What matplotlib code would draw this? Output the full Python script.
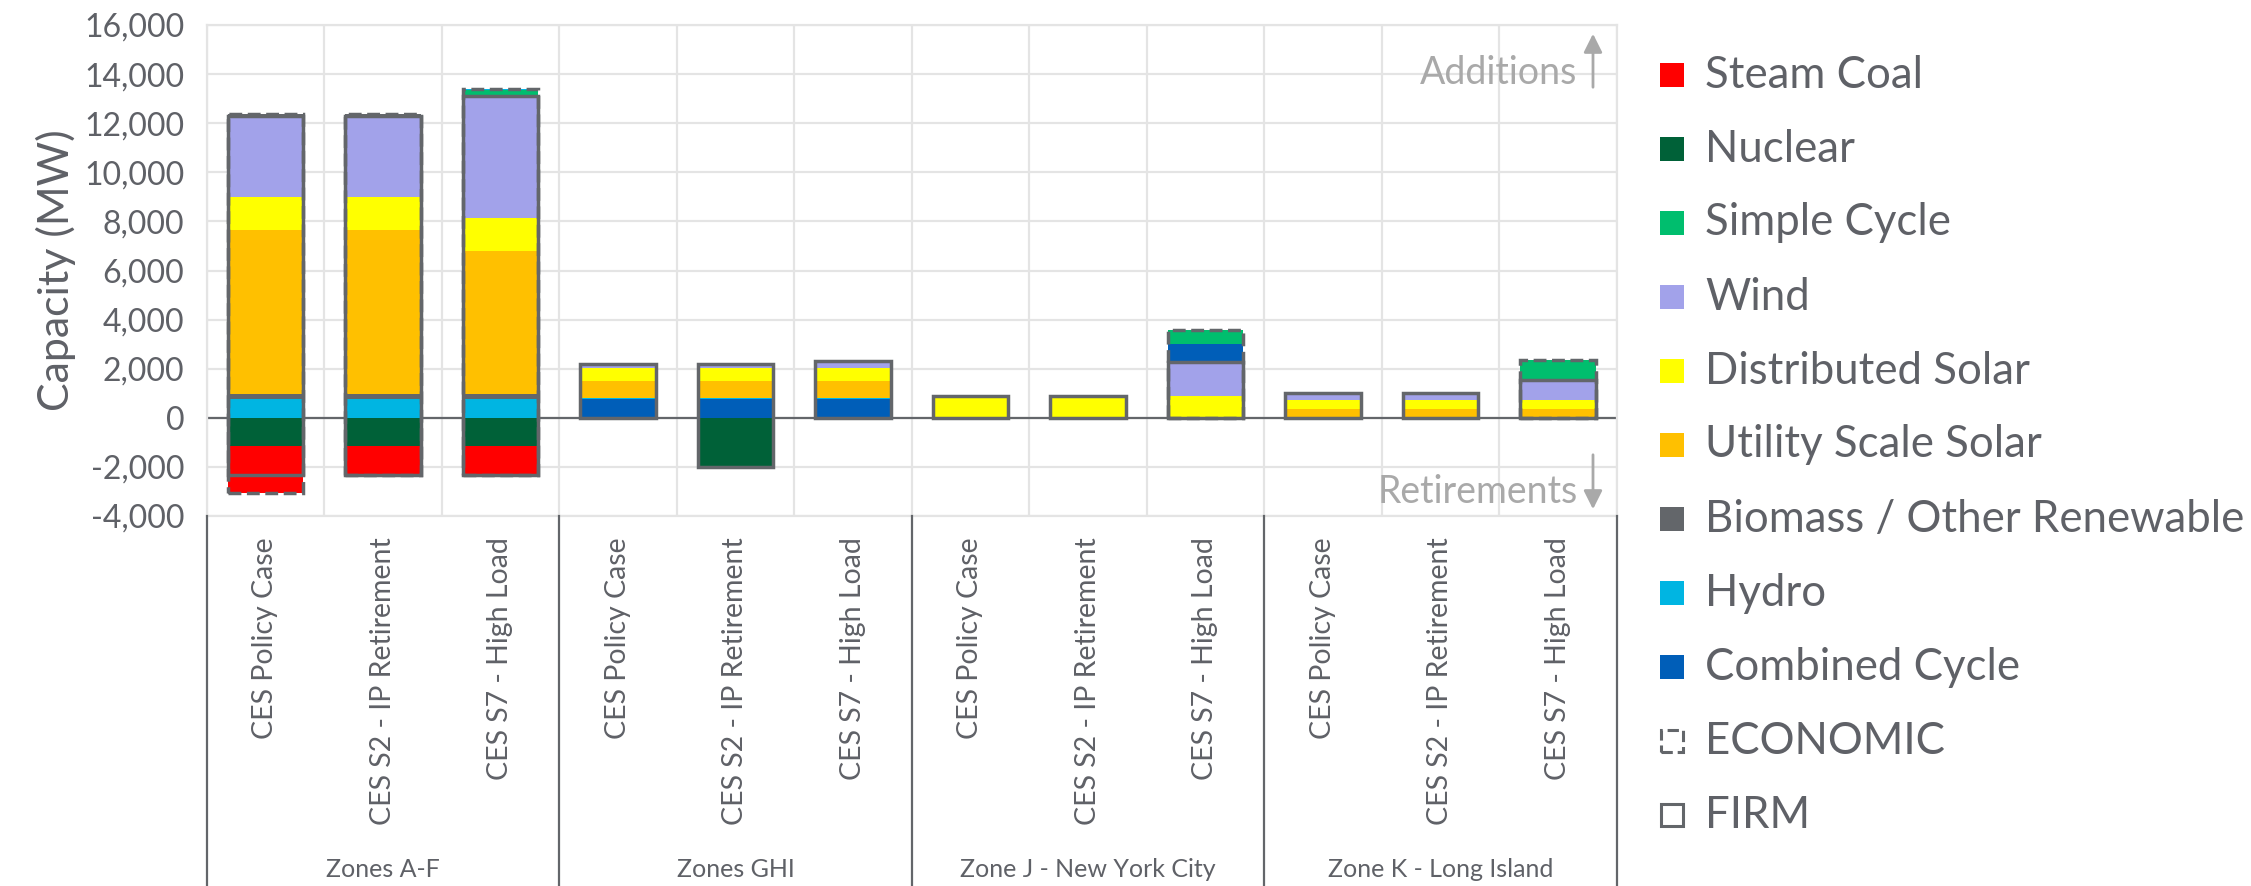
import numpy as np
import matplotlib.pyplot as plt
from matplotlib.patches import Rectangle
from matplotlib.ticker import FuncFormatter, MultipleLocator

plt.rcParams['font.family'] = ['Lato', 'DejaVu Sans']

# Cases and zones
cases = ["CES Policy Case", "CES S2 - IP Retirement", "CES S7 - High Load"] * 4
zones = ["Zones A-F", "Zones GHI", "Zone J - New York City", "Zone K - Long Island"]

# FIRM capacity changes (MW), one value per case
firm_combined_cycle = [0, 0, 0, 750, 750, 750, 0, 0, 0, 0, 0, 0]
firm_hydro = [760, 760, 760, 60, 60, 60, 0, 0, 0, 0, 0, 0]
firm_biomass = [200, 200, 200, 0, 0, 0, 0, 0, 0, 0, 0, 0]
firm_utility_solar = [6710, 6710, 5850, 680, 680, 680, 0, 0, 0, 340, 340, 340]
firm_distributed_solar = [1320, 1320, 1320, 550, 550, 550, 890, 890, 890, 370, 370, 370]
firm_wind = [3300, 3300, 4970, 170, 170, 270, 0, 0, 1390, 280, 280, 820]
firm_nuclear = [-1150, -1150, -1150, 0, -2000, 0, 0, 0, 0, 0, 0, 0]
firm_steam_coal = [-1200, -1200, -1200, 0, 0, 0, 0, 0, 0, 0, 0, 0]

# ECONOMIC capacity changes (MW) on top of the firm builds
econ_combined_cycle = [0, 0, 0, 0, 0, 0, 0, 0, 710, 0, 0, 0]
econ_simple_cycle = [0, 0, 250, 0, 0, 0, 0, 0, 590, 0, 0, 820]
econ_biomass = [80, 80, 0, 0, 0, 0, 0, 0, 0, 0, 0, 0]
econ_hydro = [0, 0, 40, 0, 0, 0, 0, 0, 0, 0, 0, 0]
econ_steam_coal = [-700, 0, 0, 0, 0, 0, 0, 0, 0, 0, 0, 0]

colors = {
    "Steam Coal": "#FF0000",
    "Nuclear": "#006138",
    "Simple Cycle": "#00BE6E",
    "Wind": "#A2A2EA",
    "Distributed Solar": "#FFFF00",
    "Utility Scale Solar": "#FFC000",
    "Biomass / Other Renewable": "#63666A",
    "Hydro": "#00B5E2",
    "Combined Cycle": "#005EB8",
}
outline = "#63666A"
text_gray = "#5F6167"
note_gray = "#A9A9A9"
grid_gray = "#E4E4E4"

stack = [
    ("Combined Cycle", firm_combined_cycle),
    ("Hydro", firm_hydro),
    ("Biomass / Other Renewable", firm_biomass),
    ("Utility Scale Solar", firm_utility_solar),
    ("Distributed Solar", firm_distributed_solar),
    ("Wind", firm_wind),
    ("Nuclear", firm_nuclear),
    ("Steam Coal", firm_steam_coal),
    ("Combined Cycle", econ_combined_cycle),
    ("Simple Cycle", econ_simple_cycle),
    ("Biomass / Other Renewable", econ_biomass),
    ("Hydro", econ_hydro),
    ("Steam Coal", econ_steam_coal),
]
n_firm = 8

fig = plt.figure(figsize=(22.51, 8.86), dpi=100)
ax = fig.add_axes([206.7 / 2251, 1 - 516 / 886, 1410 / 2251, 491 / 886])

x = np.arange(len(cases))
width = 0.64
pos = np.zeros(len(cases))
neg = np.zeros(len(cases))
firm_lo = firm_hi = None
for i, (tech, vals) in enumerate(stack):
    vals = np.array(vals, dtype=float)
    base = np.where(vals >= 0, pos, neg)
    ax.bar(x, vals, width, bottom=base, color=colors[tech], linewidth=0, zorder=2)
    pos += np.clip(vals, 0, None)
    neg += np.clip(vals, None, 0)
    if i == n_firm - 1:
        firm_lo, firm_hi = neg.copy(), pos.copy()

# ECONOMIC outline (dashed) where economic builds exist, FIRM outline (solid)
has_econ = np.zeros(len(cases), dtype=bool)
for _, vals in stack[n_firm:]:
    has_econ |= np.array(vals) != 0
ax.bar(x, firm_hi - firm_lo, width, bottom=firm_lo, fill=False,
       edgecolor=outline, linewidth=2.5, zorder=3)
ax.bar(x[has_econ], (pos - neg)[has_econ], width, bottom=neg[has_econ], fill=False,
       edgecolor=outline, linewidth=2.5, linestyle="--", zorder=4)

ax.set_xlim(-0.5, len(cases) - 0.5)
ax.set_ylim(-4000, 16000)
ax.yaxis.set_major_locator(MultipleLocator(2000))
ax.yaxis.set_major_formatter(FuncFormatter(lambda v, p: f"{v:,.0f}"))
ax.set_xticks(np.arange(-0.5, len(cases), 1.0))
ax.set_xticklabels([])
ax.tick_params(axis="x", length=0)
ax.tick_params(axis="y", length=0, pad=16, labelsize=23, labelcolor=text_gray)
ax.grid(True, color=grid_gray, linewidth=1.6, zorder=0)
ax.set_axisbelow(True)
for s in ax.spines.values():
    s.set_color(grid_gray)
    s.set_linewidth(1.6)
ax.axhline(0, color=outline, linewidth=1.6, zorder=1.5)
ax.set_ylabel("Capacity (MW)", fontsize=31, color=text_gray, labelpad=6)

# Two-level category axis
trans = ax.get_xaxis_transform()
for xi, label in zip(x, cases):
    ax.text(xi, -0.043, label, transform=trans, rotation=90, ha="center", va="top",
            fontsize=20.5, color=text_gray)
for g, zone in enumerate(zones):
    ax.text(3 * g + 1, -0.72, zone, transform=trans, ha="center", va="center",
            fontsize=18, color=text_gray, family=["Liberation Sans Narrow", "Lato"])
for b in np.arange(-0.5, len(cases), 3):
    ax.plot([b, b], [0, -0.755], transform=trans, color=outline, linewidth=1.6,
            clip_on=False, zorder=5)

# Additions / Retirements markers
fig.text(1577 / 2251, 1 - 73 / 886, "Additions", ha="right", va="center",
         fontsize=27, color=note_gray)
fig.text(1578 / 2251, 1 - 492 / 886, "Retirements", ha="right", va="center",
         fontsize=27, color=note_gray)
arrow = dict(arrowstyle="-|>", color=note_gray, lw=2, mutation_scale=28)
ax.annotate("", xy=(1593 / 2251, 1 - 31 / 886), xytext=(1593 / 2251, 1 - 90 / 886),
            xycoords="figure fraction", arrowprops=arrow)
ax.annotate("", xy=(1593 / 2251, 1 - 512 / 886), xytext=(1593 / 2251, 1 - 452 / 886),
            xycoords="figure fraction", arrowprops=arrow)

# Legend
legend_items = ["Steam Coal", "Nuclear", "Simple Cycle", "Wind", "Distributed Solar",
                "Utility Scale Solar", "Biomass / Other Renewable", "Hydro",
                "Combined Cycle", "ECONOMIC", "FIRM"]
W, H = 2251, 886
for i, name in enumerate(legend_items):
    yc = 75 + 74 * i
    sq = 24
    if name in colors:
        r = Rectangle((1660 / W, 1 - (yc + sq / 2) / H), sq / W, sq / H,
                      transform=fig.transFigure, facecolor=colors[name], edgecolor="none")
    else:
        r = Rectangle((1661 / W, 1 - (yc + 11) / H), 22 / W, 22 / H,
                      transform=fig.transFigure, facecolor="white", edgecolor=outline,
                      linewidth=2.2, linestyle="--" if name == "ECONOMIC" else "-")
    fig.add_artist(r)
    fig.text(1705 / W, 1 - yc / H, name, ha="left", va="center", fontsize=31.5,
             color=text_gray)

fig.savefig("out.png", dpi=100)
